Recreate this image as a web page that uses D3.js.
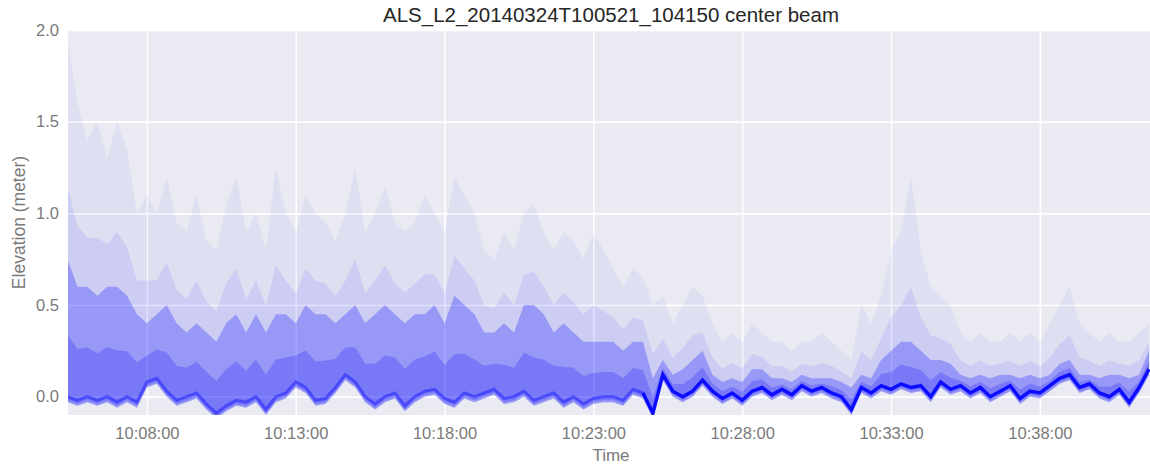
<!DOCTYPE html>
<html>
<head>
<meta charset="utf-8">
<script src="https://cdn.jsdelivr.net/npm/d3@7"></script>
<style>
  body { margin: 0; background: #fff; }
  svg { display: block; font-family: Arial, "Liberation Sans", sans-serif; }
</style>
</head>
<body>
<svg id="chart" width="1150" height="467"></svg>
<script>
// readings taken every 20 s starting at 10:05:20
const sampleStart = '10:05:20';
const sampleStep = 20; // seconds

// centre of the dense ground return (m)
const ground = [
  0.00, -0.02, 0.00, -0.02, 0.00, -0.03, 0.00, -0.03, 0.08, 0.10,
  0.03, -0.02, 0.00, 0.02, -0.04, -0.09, -0.05, -0.02, -0.03, 0.00,
  -0.07, 0.00, 0.02, 0.08, 0.05, -0.02, -0.01, 0.05, 0.12, 0.08,
  0.00, -0.04, 0.00, 0.02, -0.05, 0.00, 0.03, 0.04, -0.01, -0.03,
  0.02, 0.00, 0.02, 0.04, -0.01, 0.00, 0.03, -0.02, 0.00, 0.02,
  -0.03, 0.00, -0.04, -0.01, 0.00, 0.00, -0.02, 0.04, 0.02, -0.09,
  0.12, 0.03, 0.00, 0.03, 0.09, 0.03, -0.01, 0.02, -0.02, 0.03,
  0.05, 0.01, 0.04, 0.01, 0.06, 0.03, 0.05, 0.02, 0.00, -0.07,
  0.05, 0.02, 0.06, 0.04, 0.07, 0.05, 0.06, 0.00, 0.08, 0.04,
  0.06, 0.02, 0.05, 0.00, 0.03, 0.06, -0.01, 0.03, 0.02, 0.06,
  0.10, 0.12, 0.05, 0.07, 0.02, 0.00, 0.04, -0.03, 0.05, 0.15
];

// top of the dense point cloud (m)
const denseTop = [
  0.75, 0.60, 0.60, 0.55, 0.60, 0.60, 0.55, 0.45, 0.40, 0.45,
  0.50, 0.40, 0.35, 0.40, 0.35, 0.30, 0.40, 0.45, 0.35, 0.45,
  0.35, 0.45, 0.45, 0.40, 0.50, 0.45, 0.45, 0.40, 0.45, 0.50,
  0.40, 0.45, 0.50, 0.45, 0.40, 0.45, 0.45, 0.50, 0.40, 0.55,
  0.50, 0.45, 0.35, 0.35, 0.40, 0.35, 0.50, 0.50, 0.45, 0.35,
  0.40, 0.35, 0.30, 0.30, 0.30, 0.30, 0.25, 0.30, 0.30, 0.10,
  0.20, 0.12, 0.15, 0.20, 0.25, 0.12, 0.08, 0.10, 0.08, 0.15,
  0.15, 0.10, 0.10, 0.08, 0.12, 0.10, 0.10, 0.10, 0.08, 0.05,
  0.12, 0.10, 0.20, 0.25, 0.30, 0.30, 0.25, 0.20, 0.20, 0.18,
  0.12, 0.10, 0.12, 0.10, 0.12, 0.12, 0.10, 0.12, 0.10, 0.12,
  0.18, 0.20, 0.12, 0.12, 0.10, 0.12, 0.12, 0.10, 0.12, 0.25
];

// highest scattered returns (m)
const sparseTop = [
  1.95, 1.60, 1.40, 1.50, 1.30, 1.50, 1.35, 1.00, 1.10, 1.00,
  1.20, 0.95, 0.90, 1.10, 0.85, 0.80, 1.05, 1.20, 0.90, 1.00,
  0.80, 1.25, 1.00, 0.90, 1.10, 1.00, 0.95, 0.85, 1.00, 1.25,
  0.90, 1.00, 1.15, 0.95, 0.90, 0.95, 1.10, 1.00, 0.90, 1.20,
  1.10, 1.00, 0.80, 0.75, 0.90, 0.80, 1.00, 1.05, 0.90, 0.80,
  0.90, 0.85, 0.75, 0.90, 0.80, 0.70, 0.60, 0.70, 0.65, 0.50,
  0.55, 0.40, 0.50, 0.60, 0.55, 0.40, 0.30, 0.35, 0.30, 0.40,
  0.35, 0.30, 0.30, 0.25, 0.30, 0.30, 0.35, 0.30, 0.25, 0.20,
  0.50, 0.40, 0.55, 0.80, 0.90, 1.20, 0.80, 0.60, 0.55, 0.50,
  0.35, 0.30, 0.35, 0.30, 0.30, 0.35, 0.30, 0.35, 0.30, 0.40,
  0.50, 0.60, 0.40, 0.35, 0.30, 0.35, 0.30, 0.30, 0.35, 0.40
];

const xTicks = ['10:08:00', '10:13:00', '10:18:00', '10:23:00', '10:28:00', '10:33:00', '10:38:00'];
const yTicks = [0.0, 0.5, 1.0, 1.5, 2.0];
const roughEnd = '10:25:00';

const parse = d3.timeParse('%H:%M:%S');
const fmt = d3.timeFormat('%H:%M:%S');
const t0 = parse(sampleStart);
const data = ground.map((g, i) => ({
  t: d3.timeSecond.offset(t0, i * sampleStep),
  g: g, d: denseTop[i], s: sparseTop[i]
}));

const svg = d3.select('#chart');
const plotLeft = 68, plotRight = 1154, plotTop = 30, plotBottom = 415;

const x = d3.scaleTime()
  .domain([parse('10:05:21'), parse('10:41:50')])
  .range([plotLeft, plotRight]);
const y = d3.scaleLinear()
  .domain([-0.1, 2.0])
  .range([plotBottom, plotTop]);

// background
svg.append('rect')
  .attr('x', plotLeft).attr('y', plotTop)
  .attr('width', plotRight - plotLeft).attr('height', plotBottom - plotTop)
  .attr('fill', '#EAEAF2');

svg.append('clipPath').attr('id', 'plot')
  .append('rect')
  .attr('x', plotLeft).attr('y', plotTop)
  .attr('width', plotRight - plotLeft).attr('height', plotBottom - plotTop);

// grid
svg.append('g')
  .attr('transform', 'translate(0,' + plotBottom + ')')
  .call(d3.axisBottom(x).tickValues(xTicks.map(parse)).tickSize(-(plotBottom - plotTop)).tickFormat(''))
  .call(g => g.select('.domain').remove())
  .selectAll('line').attr('stroke', '#fff').attr('stroke-width', 1.6);

svg.append('g')
  .attr('transform', 'translate(' + plotLeft + ',0)')
  .call(d3.axisLeft(y).tickValues(yTicks).tickSize(-(plotRight - plotLeft)).tickFormat(''))
  .call(g => g.select('.domain').remove())
  .selectAll('line').attr('stroke', '#fff').attr('stroke-width', 1.6);

const plot = svg.append('g').attr('clip-path', 'url(#plot)');

const band = (lo, hi) => d3.area()
  .x(d => x(d.t))
  .y0(d => y(lo(d)))
  .y1(d => y(hi(d)));

// scattered returns, lightest first
plot.append('path').datum(data)
  .attr('d', band(d => d.g - 0.03, d => d.s))
  .attr('fill', '#0000ff').attr('fill-opacity', 0.045);
plot.append('path').datum(data)
  .attr('d', band(d => d.g - 0.03, d => (d.d * 2 + d.s) / 3))
  .attr('fill', '#0000ff').attr('fill-opacity', 0.08);
plot.append('path').datum(data)
  .attr('d', band(d => d.g - 0.03, d => d.d))
  .attr('fill', '#0000ff').attr('fill-opacity', 0.26);
plot.append('path').datum(data)
  .attr('d', band(d => d.g - 0.02, d => d.g + (d.d - d.g) * 0.45))
  .attr('fill', '#0000ff').attr('fill-opacity', 0.2);

// ground return line
const line = d3.line().x(d => x(d.t)).y(d => y(d.g));
const split = parse(roughEnd);
plot.append('path').datum(data.filter(d => d.t <= split))
  .attr('d', line)
  .attr('fill', 'none').attr('stroke', '#0000ff')
  .attr('stroke-width', 3).attr('stroke-opacity', 0.4);
plot.append('path').datum(data.filter(d => d.t >= d3.timeSecond.offset(split, -sampleStep)))
  .attr('d', line)
  .attr('fill', 'none').attr('stroke', '#0000ff')
  .attr('stroke-width', 3.5).attr('stroke-opacity', 0.9);

// tick labels
svg.append('g')
  .attr('transform', 'translate(0,' + plotBottom + ')')
  .call(d3.axisBottom(x).tickValues(xTicks.map(parse)).tickFormat(fmt).tickSize(0).tickPadding(12))
  .call(g => g.select('.domain').remove())
  .selectAll('text')
  .attr('font-size', '16.5px').attr('fill', '#7a7a7a').attr('font-family', 'Arial, "Liberation Sans", sans-serif');

svg.append('g')
  .attr('transform', 'translate(' + plotLeft + ',0)')
  .call(d3.axisLeft(y).tickValues(yTicks).tickFormat(d3.format('.1f')).tickSize(0).tickPadding(9))
  .call(g => g.select('.domain').remove())
  .selectAll('text')
  .attr('font-size', '16.5px').attr('fill', '#7a7a7a').attr('font-family', 'Arial, "Liberation Sans", sans-serif');

// titles
svg.append('text')
  .attr('x', (plotLeft + plotRight) / 2).attr('y', 22)
  .attr('text-anchor', 'middle')
  .attr('font-size', '20.5px').attr('fill', '#262626')
  .text('ALS_L2_20140324T100521_104150 center beam');

svg.append('text')
  .attr('x', (plotLeft + plotRight) / 2).attr('y', 461)
  .attr('text-anchor', 'middle')
  .attr('font-size', '17px').attr('fill', '#7a7a7a')
  .text('Time');

svg.append('text')
  .attr('transform', 'translate(25,' + ((plotTop + plotBottom) / 2) + ') rotate(-90)')
  .attr('text-anchor', 'middle')
  .attr('font-size', '17.5px').attr('fill', '#7a7a7a')
  .text('Elevation (meter)');
</script>
</body>
</html>
